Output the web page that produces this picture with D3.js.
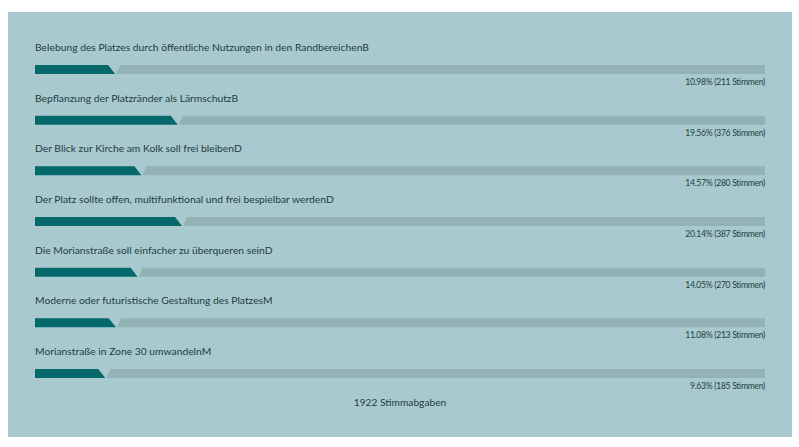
<!DOCTYPE html>
<html>
<head>
<meta charset="utf-8">
<script src="https://cdn.jsdelivr.net/npm/d3@7"></script>
<style>
  body { margin: 0; background: #fff; }
  text { font-family: Lato, "Open Sans", sans-serif; }
</style>
</head>
<body>
<div id="chart"></div>
<script>
var labels = [
    "Belebung des Platzes durch öffentliche Nutzungen in den RandbereichenB",
    "Bepflanzung der Platzränder als LärmschutzB",
    "Der Blick zur Kirche am Kolk soll frei bleibenD",
    "Der Platz sollte offen, multifunktional und frei bespielbar werdenD",
    "Die Morianstraße soll einfacher zu überqueren seinD",
    "Moderne oder futuristische Gestaltung des PlatzesM",
    "Morianstraße in Zone 30 umwandelnM"
];
var percents = [10.98, 19.56, 14.57, 20.14, 14.05, 11.08, 9.63];
var votes = [211, 376, 280, 387, 270, 213, 185];
var total = 1922;

loadPollGraph('#chart');

function loadPollGraph(element) {

    var width = 799;
    var height = 447;
    var barHeight = 9;
    var colors = { panel: '#a8cacf', track: '#93b2b6', fill: '#05696c', text: '#1f3c40' };

    var x = d3.scaleLinear()
        .domain([0, 100])
        .range([35, 765]);
    var y = d3.scalePoint()
        .domain(labels)
        .range([65, 369]);

    var svg = d3.select(element)
        .append('svg')
        .attr('width', width)
        .attr('height', height);

    svg.append('rect')
        .attr('x', 8).attr('y', 12)
        .attr('width', 784).attr('height', 425)
        .attr('fill', colors.panel);

    var rows = svg.append('g')
        .selectAll('g').data(labels).enter().append('g')
        .attr('transform', d => `translate(0,${y(d)})`);

    // grey track, starts with a "/" cut just after the value
    rows.append('path')
        .attr('fill', colors.track)
        .attr('d', (d, i) => {
            var p = x(percents[i]);
            return `M${p + 1},${barHeight}L${p + 5},0L${x(100)},0L${x(100)},${barHeight}Z`;
        });

    // teal value bar, ends with a "\" cut
    rows.append('path')
        .attr('fill', colors.fill)
        .attr('d', (d, i) => {
            var p = x(percents[i]);
            return `M${x(0)},0L${p - 7},0L${p},${barHeight}L${x(0)},${barHeight}Z`;
        });

    rows.append('text')
        .attr('x', x(0))
        .attr('y', -14)
        .attr('fill', colors.text)
        .attr('font-size', 10.3)
        .text(d => d);

    rows.append('text')
        .attr('x', x(100))
        .attr('y', 20)
        .attr('text-anchor', 'end')
        .attr('fill', colors.text)
        .attr('font-size', 8.6)
        .attr('letter-spacing', -0.3)
        .text((d, i) => `${percents[i].toFixed(2)}% (${votes[i]} Stimmen)`);

    svg.append('text')
        .attr('x', 400)
        .attr('y', 406)
        .attr('text-anchor', 'middle')
        .attr('fill', colors.text)
        .attr('font-size', 10.2)
        .text(`${total} Stimmabgaben`);

    svg.node();
}
</script>
</body>
</html>
